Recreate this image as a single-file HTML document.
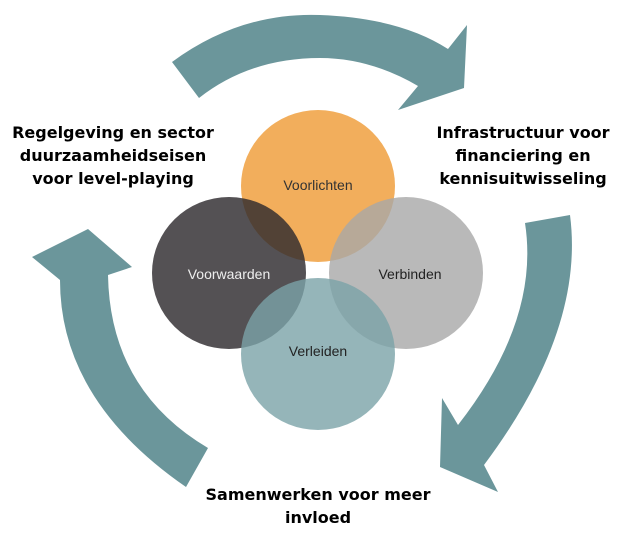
<!DOCTYPE html>
<html><head><meta charset="utf-8"><style>
html,body{margin:0;padding:0;background:#fff;width:620px;height:539px;overflow:hidden}
svg{display:block}
.t{font-family:"DejaVu Sans","Liberation Sans",sans-serif;font-weight:bold;font-size:16px;fill:#000;text-anchor:middle}
.c{font-family:"Liberation Sans",sans-serif;font-size:14px;text-anchor:middle}
</style></head><body>
<svg width="620" height="539" viewBox="0 0 620 539">
<g fill="#6b969b">
<path d="M172,62 Q240,12 320,15 Q400,18 448,49 L467,25 L464,88 L398,110 L418,86 Q370,58 320,58 Q250,58 199,98 Z"/>
<path d="M525,223 L570,215 Q585,330 484,465 L498,492 L440,467 L442,398 L458,425 Q540,320 525,223 Z"/>
<path d="M208,448 L186,487 Q60,400 60,280 L32,257 L88,229 L132,267 L108,275 Q110,390 208,448 Z"/>
</g>
<ellipse cx="318" cy="186" rx="77" ry="76" fill="#f0a040" opacity="0.85"/>
<ellipse cx="229" cy="273" rx="77" ry="76" fill="#2e2b2e" opacity="0.82"/>
<ellipse cx="406" cy="273" rx="77" ry="76" fill="#a8a8a8" opacity="0.8"/>
<ellipse cx="318" cy="354" rx="77" ry="76" fill="#7aa2a8" opacity="0.8"/>
<text class="c" x="318" y="190" fill="#333">Voorlichten</text>
<text class="c" x="229" y="279" fill="#eee">Voorwaarden</text>
<text class="c" x="410" y="279" fill="#222">Verbinden</text>
<text class="c" x="318" y="356" fill="#222">Verleiden</text>
<text class="t" x="113" y="138">Regelgeving en sector</text>
<text class="t" x="113" y="161">duurzaamheidseisen</text>
<text class="t" x="113" y="184">voor level-playing</text>
<text class="t" x="523" y="138">Infrastructuur voor</text>
<text class="t" x="523" y="161">financiering en</text>
<text class="t" x="523" y="184">kennisuitwisseling</text>
<text class="t" x="318" y="500">Samenwerken voor meer</text>
<text class="t" x="318" y="523">invloed</text>
</svg>
</body></html>
